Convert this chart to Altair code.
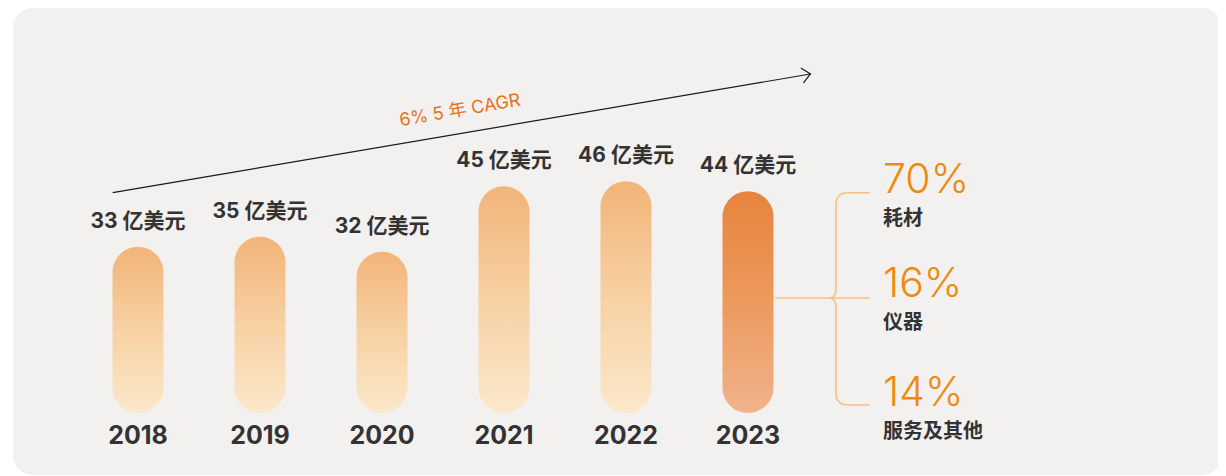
import altair as alt
import pandas as pd

# ---------------- data ----------------
years = ["2018", "2019", "2020", "2021", "2022", "2023"]
values = [33, 35, 32, 45, 46, 44]
unit = "亿美元"
highlight = [False, False, False, False, False, True]
cagr_label = "6% 5 年 CAGR"
share_pct = ["70%", "16%", "14%"]
share_names = ["耗材", "仪器", "服务及其他"]

# ---------------- layout / style ----------------
FONT = "Inter, Noto Sans CJK SC, sans-serif"
DARK = "#333333"
W, H = 1210, 468
pct_y = [172.5, 277, 385.5]
name_y = [210.5, 315, 423.5]

df = pd.DataFrame({
    "year": years,
    "value": values,
    "label": [f"{v} {unit}" for v in values],
    "hl": highlight,
})

x_enc = alt.X("year:N", sort=years,
              scale=alt.Scale(type="band", domain=years, range=[69, 801],
                              paddingInner=0.582, paddingOuter=0.291),
              axis=None)
y_enc = alt.Y("value:Q", scale=alt.Scale(domain=[0, 80], range=[405, 2]), axis=None)

grad_light = {
    "gradient": "linear", "x1": 0, "x2": 0, "y1": 0, "y2": 1,
    "stops": [
        {"offset": 0, "color": "#f2b479"},
        {"offset": 0.5, "color": "#f7d1a3"},
        {"offset": 1, "color": "#fbe8cb"},
    ],
}
grad_dark = {
    "gradient": "linear", "x1": 0, "x2": 0, "y1": 0, "y2": 1,
    "stops": [
        {"offset": 0, "color": "#e8833d"},
        {"offset": 0.5, "color": "#ec9a5d"},
        {"offset": 1, "color": "#f1b28b"},
    ],
}

one = alt.Data(values=[{"t": cagr_label}])

panel = alt.Chart(alt.Data(values=[{}])).mark_rect(
    color="#f3f1ef", cornerRadius=20
).encode(x=alt.value(5), x2=alt.value(1214), y=alt.value(0), y2=alt.value(467))

base = alt.Chart(df)

bars_light = base.transform_filter("!datum.hl").mark_bar(
    cornerRadius=25.5, color=grad_light
).encode(x=x_enc, y=y_enc, y2=alt.datum(0))

bars_dark = base.transform_filter("datum.hl").mark_bar(
    cornerRadius=25.5, color=grad_dark
).encode(x=x_enc, y=y_enc, y2=alt.datum(0))

value_text = base.mark_text(
    dy=-25, fontSize=21, fontWeight="bold", color=DARK, font=FONT, baseline="middle"
).encode(x=x_enc, y=y_enc, text="label:N")

year_text = base.mark_text(
    fontSize=25, fontWeight="bold", color=DARK, font=FONT, baseline="middle"
).encode(x=x_enc, y=alt.value(428), text="year:N")

arrow_line = alt.Chart(one).mark_rule(color="#1a1a1a", strokeWidth=1.2).encode(
    x=alt.value(104.7), y=alt.value(184.7), x2=alt.value(802.5), y2=alt.value(66)
)
arrow_head = alt.Chart(one).mark_point(
    shape="M-8.5,-7.5L0,0L-8.5,7.5", size=4, filled=False, color="#1a1a1a",
    strokeWidth=1.2, angle=350.35, opacity=1
).encode(x=alt.value(802.5), y=alt.value(66))

cagr_text = alt.Chart(one).mark_text(
    angle=350.35, fontSize=18, color="#e8701a", font=FONT, baseline="middle", align="center"
).encode(x=alt.value(452), y=alt.value(103), text="t:N")

brace_path = ("M34,-105.3L12,-105.3Q0,-105.3 0,-93.3L0,-9Q0,0 -7,0Q0,0 0,9"
              "L0,95Q0,107 12,107L34,107M-61,0L34,0")
brace = alt.Chart(one).mark_point(
    shape=brace_path, size=4, filled=False, color="#f6c17e", strokeWidth=1.6, opacity=1
).encode(x=alt.value(828), y=alt.value(290))

layers = [panel, bars_light, bars_dark, value_text, year_text,
          arrow_line, arrow_head, cagr_text, brace]

for pct, name, py, ny in zip(share_pct, share_names, pct_y, name_y):
    d = pd.DataFrame({"pct": [pct], "name": [name]})
    layers.append(alt.Chart(d).mark_text(
        fontSize=41, fontWeight=300, color="#ef8a10", font=FONT, align="left", baseline="middle"
    ).encode(x=alt.value(875), y=alt.value(py), text="pct:N"))
    layers.append(alt.Chart(d).mark_text(
        fontSize=20, fontWeight="bold", color=DARK, font=FONT, align="left", baseline="middle"
    ).encode(x=alt.value(875), y=alt.value(ny), text="name:N"))

chart = alt.layer(*layers).properties(
    width=W, height=H, autosize=alt.AutoSizeParams(type="none"), padding=0,
    background="white"
).configure_view(stroke=None)

chart.save("out.html", embed_options={"renderer": "svg", "actions": False})
